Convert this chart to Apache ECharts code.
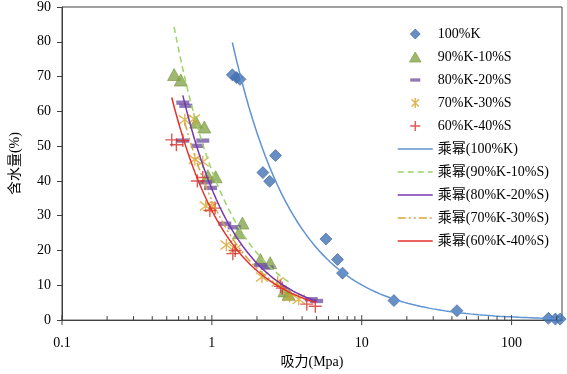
<!DOCTYPE html>
<html><head><meta charset="utf-8">
<script src="https://cdn.jsdelivr.net/npm/echarts@6/dist/echarts.min.js"></script>
<style>html,body{margin:0;padding:0;background:#fff}#c{width:567px;height:374px}</style>
</head><body><div id="c"></div>
<script>
// ---- data ----
const seriesNames = ['100%K', '90%K-10%S', '80%K-20%S', '70%K-30%S', '60%K-40%S'];
const fitNames = ['乘幂(100%K)', '乘幂(90%K-10%S)', '乘幂(80%K-20%S)', '乘幂(70%K-30%S)', '乘幂(60%K-40%S)'];

const k100X = [1.37, 1.46, 1.54, 2.19, 2.43, 2.66, 5.77, 6.89, 7.44, 16.4, 43.2, 176, 196, 211];
const k100Y = [70.5, 69.7, 69.2, 42.4, 39.9, 47.3, 23.3, 17.4, 13.5, 5.6, 2.7, 0.5, 0.3, 0.3];

const k90X = [0.56, 0.62, 0.785, 0.89, 0.94, 1.06, 1.52, 1.60, 2.11, 2.45, 3.05, 3.25];
const k90Y = [70.6, 69.0, 56.9, 55.5, 41.5, 41.2, 25.1, 27.9, 17.4, 16.5, 8.4, 7.4];

const k80X = [0.64, 0.67, 0.64, 0.80, 0.87, 0.91, 0.98, 1.22, 1.41, 2.12, 2.34, 4.6, 5.0];
const k80Y = [62.5, 61.6, 51.6, 50.1, 51.6, 39.6, 38.0, 27.7, 26.7, 15.8, 15.1, 6.0, 5.5];

const k70X = [0.66, 0.76, 0.77, 0.87, 0.91, 1.00, 1.25, 1.44, 2.16, 2.75, 3.3, 3.8];
const k70Y = [57.6, 57.8, 46.2, 45.5, 32.8, 32.5, 21.6, 20.5, 12.4, 11.0, 6.8, 6.0];

const k60X = [0.54, 0.58, 0.64, 0.80, 0.87, 0.97, 1.05, 1.38, 1.43, 2.87, 2.95, 4.3, 4.9];
const k60Y = [51.8, 50.4, 51.6, 40.0, 41.0, 31.5, 32.2, 19.1, 20.0, 9.7, 9.2, 4.6, 4.0];

// power trendline parameters y = a * x^b
const fitA = [110.7, 43.0, 37.7, 34.4, 31.5];
const fitB = [-1.04, -1.16, -1.207, -1.206, -1.15];

const xMajorTicks = [0.1, 1, 10, 100];
const xMinorTicks = [0.2, 0.3, 0.4, 0.5, 0.6, 0.7, 0.8, 0.9, 2, 3, 4, 5, 6, 7, 8, 9, 20, 30, 40, 50, 60, 70, 80, 90, 200];

// ---- build ----
const xs = [k100X, k90X, k80X, k70X, k60X];
const ys = [k100Y, k90Y, k80Y, k70Y, k60Y];
const pairs = (X, Y) => X.map((x, i) => [x, Y[i]]);

function fitCurve(i) {
  const X = xs[i];
  const lo = Math.min(...X), hi = Math.max(...X);
  const n = 80, out = [];
  for (let k = 0; k <= n; k++) {
    const x = lo * Math.pow(hi / lo, k / n);
    out.push([x, fitA[i] * Math.pow(x, fitB[i])]);
  }
  return out;
}

const FONT = "'Liberation Serif','Times New Roman','Noto Sans CJK SC',serif";

const symDiamond = 'path://M6 0L12 6L6 12L0 6Z';
const symTri = 'path://M6 0L12 10.4L0 10.4Z';
const symDash = 'path://M0 0M0 4H12V8H0ZM12 12';
const symStar = 'path://M1.5 1.5L10.5 10.5M10.5 1.5L1.5 10.5M6 0L6 12';
const symPlus = 'path://M6 0L6 12M0 6L12 6';
const lineIcon = 'path://M0 0M0 5L35 5M35 10';

const markerColors = ['#4372B3', '#87A64C', '#7459A3', '#D4A228', '#D3302C'];
const lineColors = ['#5F93D3', '#9BD462', '#7636B0', '#D9A43A', '#E5312C'];
const lineTypes = ['solid', [6, 4], 'solid', [8, 3, 2, 3, 2, 3], 'solid'];

const scatterDefs = [
  { symbol: symDiamond, size: 12, itemStyle: { color: markerColors[0], borderColor: '#3A64A0', borderWidth: 0.8 } },
  { symbol: symTri, size: [13, 12], itemStyle: { color: markerColors[1], borderColor: '#779641', borderWidth: 0.8 } },
  { symbol: symDash, size: 13, itemStyle: { color: markerColors[2] } },
  { symbol: symStar, size: 12, itemStyle: { color: 'rgba(0,0,0,0)', borderColor: markerColors[3], borderWidth: 1.4 } },
  { symbol: symPlus, size: 13, itemStyle: { color: 'rgba(0,0,0,0)', borderColor: markerColors[4], borderWidth: 1.4 } }
];

const series = [];
scatterDefs.forEach((d, i) => {
  series.push({
    name: seriesNames[i], type: 'scatter', data: pairs(xs[i], ys[i]),
    symbol: d.symbol, symbolSize: d.size, itemStyle: d.itemStyle, z: 3, clip: false
  });
});
fitNames.forEach((nm, i) => {
  series.push({
    name: nm, type: 'line', data: fitCurve(i), showSymbol: false, symbol: 'none',
    lineStyle: { color: lineColors[i], width: 1.5, type: lineTypes[i] },
    itemStyle: { color: lineColors[i] }, z: 4, silent: true, animation: false
  });
});
series.push({
  type: 'custom', silent: true, z: 6, clip: false, animation: false,
  data: xMajorTicks.map(v => [v, 1]).concat(xMinorTicks.map(v => [v, 0])),
  renderItem: (params, api) => {
    const p = api.coord([api.value(0), 0]);
    const major = api.value(1) === 1;
    return { type: 'line', shape: { x1: p[0], y1: p[1] - (major ? 5 : 4), x2: p[0], y2: p[1] + (major ? 5 : 0) },
      style: { stroke: '#404040', lineWidth: 1 } };
  }
});

const legendData = seriesNames.map((n, i) => ({ name: n, icon: scatterDefs[i].symbol,
  itemStyle: { borderWidth: i >= 3 ? 1.4 : 0.8 } }))
  .concat(fitNames.map((n, i) => ({ name: n, icon: lineIcon,
    itemStyle: { color: 'rgba(0,0,0,0)', borderColor: lineColors[i], borderWidth: 1.5, borderType: lineTypes[i] } })));

const chart = echarts.init(document.getElementById('c'), null, { renderer: 'canvas' });
chart.setOption({
  animation: false,
  backgroundColor: '#fff',
  grid: { left: 58, right: 5, top: 7, bottom: 46, show: true, borderColor: '#404040', borderWidth: 1, backgroundColor: 'transparent' },
  legend: {
    data: legendData, orient: 'vertical', left: 392, top: 22, itemWidth: 35, itemHeight: 10, itemGap: 9,
    textStyle: { fontFamily: FONT, fontSize: 14, color: '#000', lineHeight: 14 }, selectedMode: false
  },
  xAxis: {
    type: 'log', logBase: 10, min: 0.1, max: 217,
    name: '吸力(Mpa)', nameLocation: 'middle', nameGap: 30,
    nameTextStyle: { fontFamily: FONT, fontSize: 14, color: '#000' },
    axisLine: { show: true, lineStyle: { color: '#404040', width: 1 } },
    axisTick: { show: false }, minorTick: { show: false }, splitLine: { show: false },
    axisLabel: { fontFamily: FONT, fontSize: 14, color: '#000', margin: 16, showMaxLabel: false }
  },
  yAxis: {
    type: 'value', min: 0, max: 90, interval: 10,
    name: '含水量(%)', nameLocation: 'middle', nameGap: 40,
    nameTextStyle: { fontFamily: FONT, fontSize: 14, color: '#000' },
    axisLine: { show: true, lineStyle: { color: '#404040', width: 1 } },
    axisTick: { show: true, inside: false, length: 5, lineStyle: { color: '#404040' } },
    splitLine: { show: false },
    axisLabel: { fontFamily: FONT, fontSize: 14, color: '#000', margin: 11 }
  },
  series: series
});
</script></body></html>
